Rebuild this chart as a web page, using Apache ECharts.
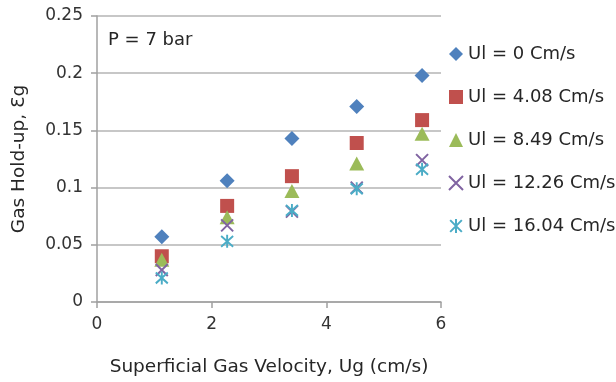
<!DOCTYPE html>
<html><head><meta charset="utf-8">
<script src="https://cdn.jsdelivr.net/npm/echarts@6/dist/echarts.min.js"></script>
<style>html,body{margin:0;padding:0;background:#fff}#c{width:616px;height:382px}</style>
</head><body><div id="c"></div>
<script>
const xVals = [1.13, 2.27, 3.4, 4.53, 5.67];
const ul0 = [0.057, 0.106, 0.143, 0.171, 0.198];
const ul408 = [0.040, 0.084, 0.110, 0.139, 0.159];
const ul849 = [0.037, 0.074, 0.097, 0.121, 0.147];
const ul1226 = [0.028, 0.067, 0.079, 0.100, 0.124];
const ul1604 = [0.021, 0.053, 0.080, 0.099, 0.116];
const seriesNames = ['Ul = 0 Cm/s','Ul = 4.08 Cm/s','Ul = 8.49 Cm/s','Ul = 12.26 Cm/s','Ul = 16.04 Cm/s'];
const xTicks = [0, 2, 4, 6];
const yTicks = [0, 0.05, 0.1, 0.15, 0.2, 0.25];

const FONT = '"DejaVu Sans", sans-serif';
const chart = echarts.init(document.getElementById('c'));
const pair = ys => xVals.map((x,i)=>[x, ys[i]]);
const crossPath = 'path://M0,0L10,10M10,0L0,10';
const starPath = 'path://M0,0L10,10M10,0L0,10M5,-1L5,11';
const styles = [
  {symbol:'diamond', symbolSize:[15,15], itemStyle:{color:'#4F81BD', opacity:1}},
  {symbol:'rect', symbolSize:[14,14], itemStyle:{color:'#C0504D', opacity:1}},
  {symbol:'triangle', symbolSize:[15,14], itemStyle:{color:'#9BBB59', opacity:1}},
  {symbol:crossPath, symbolSize:[12,12], itemStyle:{color:'rgba(0,0,0,0)', borderColor:'#8064A2', borderWidth:2, opacity:1}},
  {symbol:starPath, symbolSize:[12,13], itemStyle:{color:'rgba(0,0,0,0)', borderColor:'#4BACC6', borderWidth:2, opacity:1}}
];
const data = [ul0, ul408, ul849, ul1226, ul1604];
chart.setOption({
  animation:false,
  backgroundColor:'#fff',
  textStyle:{fontFamily:FONT},
  grid:{left:97, right:175, top:16, bottom:78},
  legend:{
    orient:'vertical', left:443, top:39, itemGap:23, itemWidth:14, itemHeight:14, itemStyle:{opacity:1},
    textStyle:{fontFamily:FONT, fontSize:18, color:'#262626', lineHeight:20},
    data: seriesNames
  },
  xAxis:{
    type:'value', min:0, max:6, interval:2,
    name:'Superficial Gas Velocity, Ug (cm/s)', nameLocation:'middle', nameGap:56,
    nameTextStyle:{fontFamily:FONT, fontSize:18.5, color:'#262626'},
    axisLine:{show:true, lineStyle:{color:'#A0A0A0', width:1.5}},
    axisTick:{show:true, length:6, inside:false, lineStyle:{color:'#A0A0A0', width:1.5}},
    axisLabel:{fontFamily:FONT, fontSize:17, color:'#333', margin:14},
    splitLine:{show:false}
  },
  yAxis:{
    type:'value', min:0, max:0.25, interval:0.05,
    name:'Gas Hold-up, Ɛg', nameLocation:'middle', nameGap:68, nameRotate:90,
    nameTextStyle:{fontFamily:FONT, fontSize:18.5, color:'#262626'},
    axisLine:{show:true, lineStyle:{color:'#A0A0A0', width:1.5}},
    axisTick:{show:true, length:6, lineStyle:{color:'#A0A0A0', width:1.5}},
    axisLabel:{fontFamily:FONT, fontSize:17, color:'#333', margin:14,
      formatter: v => { const t = yTicks.find(k=>Math.abs(k-v)<1e-9); return t===undefined? '' : String(+t.toFixed(2)); }},
    splitLine:{show:true, lineStyle:{color:'#B4B4B4', width:1.5}}
  },
  graphic:[{type:'text', left:108, top:31, style:{text:'P = 7 bar', font:'18px "DejaVu Sans", sans-serif', fill:'#262626'}}],
  series: data.map((d,i)=>Object.assign({type:'scatter', name:seriesNames[i], data:pair(d)}, styles[i]))
});
</script></body></html>
